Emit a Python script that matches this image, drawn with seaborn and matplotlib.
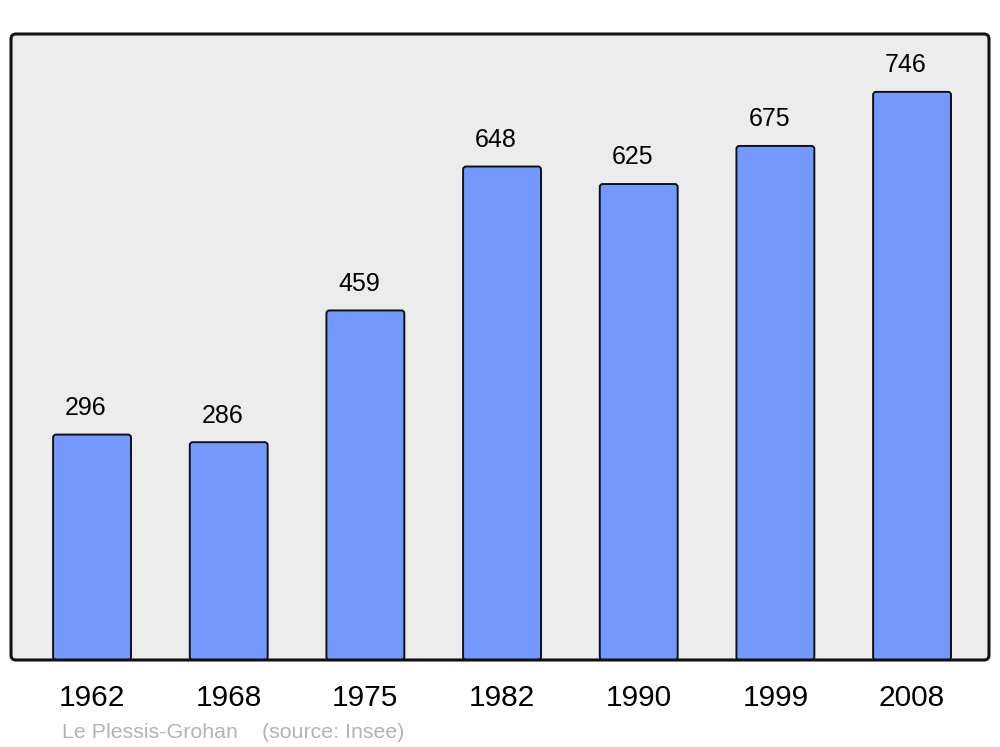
import numpy as np
import pandas as pd
import matplotlib
matplotlib.use("Agg")
import matplotlib.pyplot as plt
from matplotlib.patches import FancyBboxPatch
import seaborn as sns

# === data ===
years = ["1962", "1968", "1975", "1982", "1990", "1999", "2008"]
population = [296, 286, 459, 648, 625, 675, 746]
commune = "Le Plessis-Grohan"
source = "(source: Insee)"

df = pd.DataFrame({"year": years, "pop": population})

sns.set_theme(style="white")
plt.rcParams["font.family"] = ["Liberation Sans", "DejaVu Sans"]

fig = plt.figure(figsize=(10, 7.47), dpi=100)
fig.patch.set_facecolor("white")
ax = fig.add_axes([0.011, 87 / 747, 0.978, 626 / 747])
ax.set_facecolor("none")

sns.barplot(data=df, x="year", y="pop", color="#7399ff", width=0.57,
            saturation=1, ax=ax)

ax.set_xlim(-0.593, 6.563)
ax.set_ylim(0, 822)

# rounded bars drawn from the seaborn geometry
px_x = 978 / (6.563 + 0.593)
px_y = 626 / 822
aspect = px_x / px_y
for bar in list(ax.patches):
    x, y, w, h = bar.get_x(), bar.get_y(), bar.get_width(), bar.get_height()
    rb = FancyBboxPatch((x, y), w, h,
                        boxstyle=f"round,pad=0,rounding_size={3 / px_x}",
                        mutation_aspect=aspect,
                        facecolor="#7399ff", edgecolor="#111111",
                        linewidth=1.4, zorder=2)
    ax.add_patch(rb)
    bar.set_visible(False)

# value labels
for xi, v in enumerate(population):
    ax.annotate(str(v), (xi - 0.045, v), xytext=(0, 10.5), textcoords="offset points",
                ha="center", va="bottom", fontsize=18, color="black")

# background + frame with rounded corners
ax_aspect = 978 / 626
bg = FancyBboxPatch((0, 0), 1, 1, boxstyle=f"round,pad=0,rounding_size={5 / 978}",
                    mutation_aspect=ax_aspect, transform=ax.transAxes,
                    facecolor="#ececec", edgecolor="none", zorder=0, clip_on=False)
ax.add_patch(bg)
frame = FancyBboxPatch((0, 0), 1, 1, boxstyle=f"round,pad=0,rounding_size={5 / 978}",
                       mutation_aspect=ax_aspect, transform=ax.transAxes,
                       facecolor="none", edgecolor="#111111", linewidth=2.2,
                       zorder=5, clip_on=False)
ax.add_patch(frame)

for s in ax.spines.values():
    s.set_visible(False)

ax.set_xlabel("")
ax.set_ylabel("")
ax.set_yticks([])
ax.tick_params(axis="x", length=0, pad=17, labelsize=21.5, labelcolor="black")
for lbl in ax.get_xticklabels():
    lbl.set_x(lbl.get_position()[0])

fig.text(0.062, 1 - 732 / 747, commune, fontsize=15.4, color="#b3b3b3", va="center")
fig.text(0.262, 1 - 732 / 747, source, fontsize=15.4, color="#b3b3b3", va="center")

fig.savefig("out.png", dpi=100)
